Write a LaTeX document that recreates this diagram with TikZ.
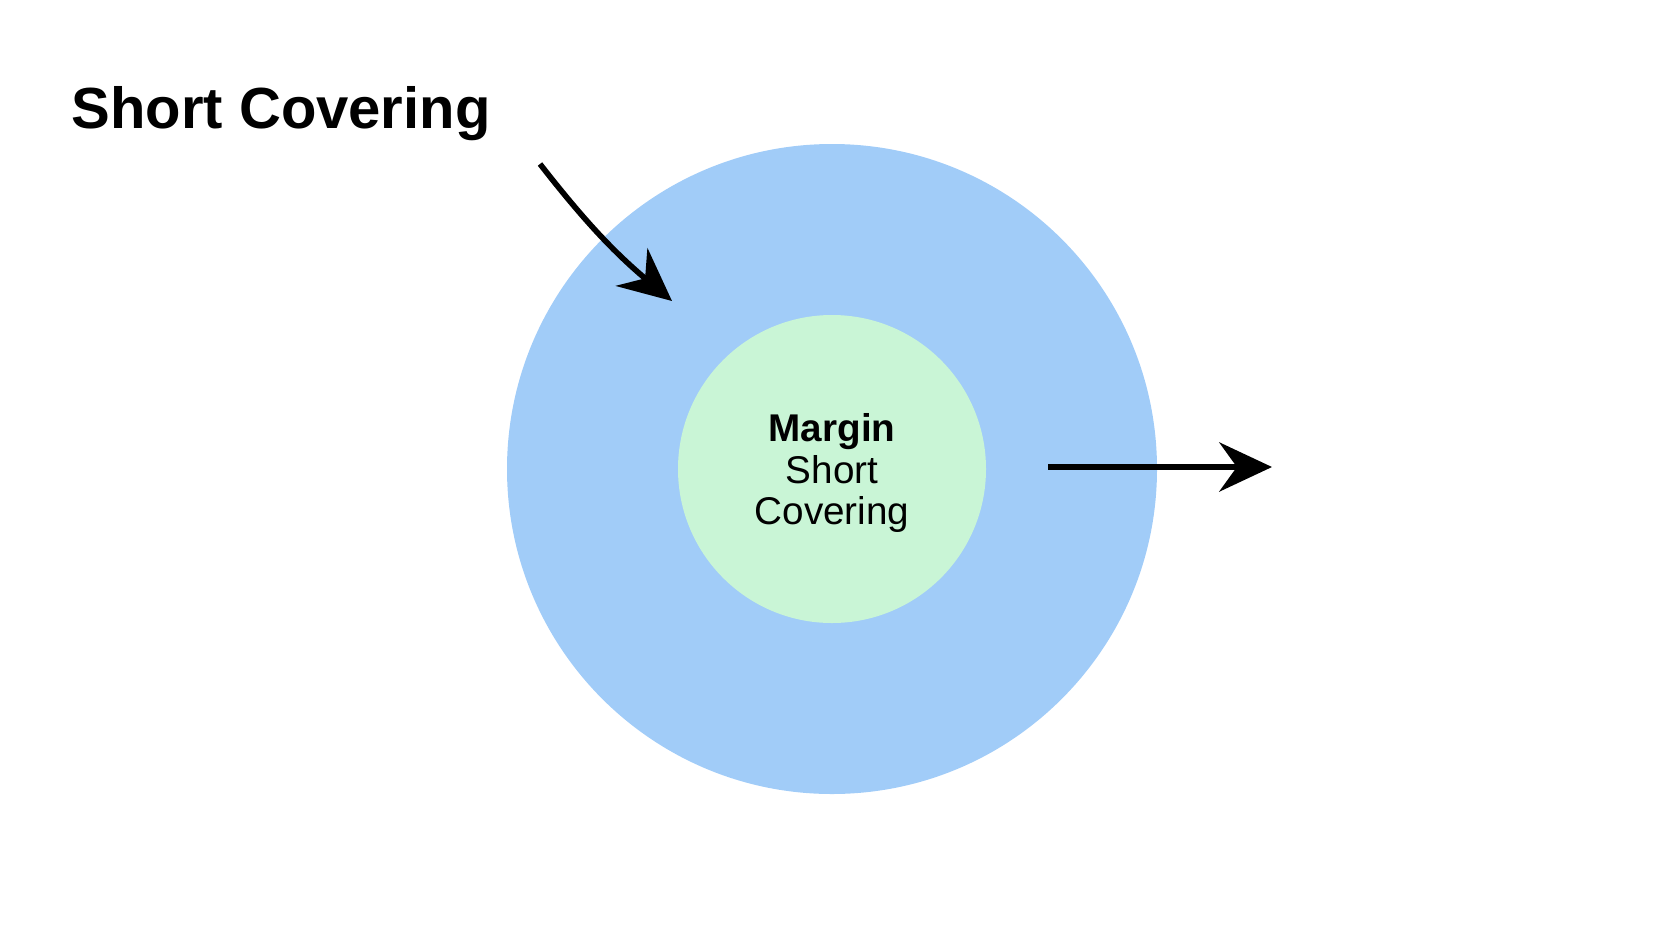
\documentclass[tikz,border=0pt]{standalone}
\usepackage{fontspec}
\setmainfont{Liberation Sans}
\usetikzlibrary{arrows.meta}
\definecolor{outerblue}{HTML}{A1CCF8}
\definecolor{innergreen}{HTML}{C9F5D6}
\tikzset{
 conn/.style={line width=1.6pt,-{Stealth[length=15pt,width=14pt,inset=5pt]}},
}
\begin{document}
\begin{tikzpicture}[x=1cm,y=1cm]
\useasboundingbox (0,0) rectangle (16.66,9.37);
\fill[outerblue] (8.32,4.68) circle (3.25);
\node[circle,fill=innergreen,minimum size=3.08cm,inner sep=0pt,align=center,font=\fontsize{11}{11.8}\selectfont] (inner) at (8.32,4.68) {};
\node[align=center,inner sep=0pt,font=\fontsize{11}{11.8}\selectfont] (innertext) at (8.32,4.64) {\textbf{Margin}\\Short\\Covering};
\node[anchor=west,inner sep=0pt,font=\fontsize{16.5}{20}\selectfont\bfseries] (title) at (0.71,8.23) {Short Covering};
\coordinate (a1s) at (5.40,7.73);
\coordinate (a1e) at (6.72,6.36);
\coordinate (a2s) at (10.48,4.70);
\coordinate (a2e) at (12.72,4.70);
\draw[conn] (a1s) to[bend right=6] (a1e);
\draw[conn] (a2s) -- (a2e);
\end{tikzpicture}
\end{document}
